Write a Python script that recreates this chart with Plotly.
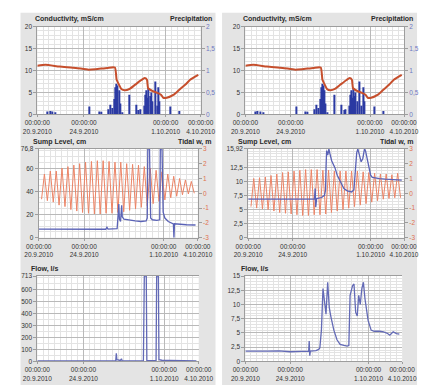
import pandas as pd
import plotly.graph_objects as go

START = pd.Timestamp("2010-09-20 00:00")
END = pd.Timestamp("2010-10-04 00:00")

# ---- shared time axis ticks (days after 20.9.2010 00:00)
x_tick_day = [0, 4, 11, 14]
x_tick_text = ["00:00:00<br>20.9.2010", "00:00:00<br>24.9.2010",
               "00:00:00<br>1.10.2010", "00:00:00<br>4.10.2010"]

# ---- conductivity, mS/cm
cond_day = [0.0, 0.7, 1.9, 3.3, 4.4, 5.0, 6.0, 6.65, 6.8, 7.0, 7.2, 7.5, 7.9, 8.4,
            8.9, 9.2, 9.4, 9.5, 9.9, 10.3, 10.6, 10.8, 11.1, 11.7, 12.2, 12.7, 13.1, 13.8]
cond_val = [11.1, 11.3, 10.9, 10.6, 10.2, 10.3, 10.6, 10.7, 7.9, 6.8, 5.8, 5.5, 5.8, 6.8,
            7.8, 8.3, 7.9, 6.0, 5.3, 4.9, 4.5, 3.8, 3.8, 4.5, 5.7, 6.8, 7.9, 9.0]

# ---- precipitation
rain_day = [0.9, 1.1, 1.3, 1.55, 4.5, 5.3, 5.45, 6.1, 6.25, 6.4, 6.6, 6.7, 6.8, 6.9,
            7.0, 7.1, 7.25, 7.9, 8.45, 8.7, 8.85, 9.15, 9.25, 9.35, 9.45, 9.55, 9.65,
            9.75, 9.85, 10.1, 10.25, 10.4, 10.5, 11.4, 12.2]
rain_val = [0.07, 0.08, 0.07, 0.05, 0.18, 0.07, 0.06, 0.12, 0.22, 0.15, 0.35, 0.62, 0.70,
            0.66, 0.55, 0.25, 0.05, 0.45, 0.22, 0.10, 0.12, 0.20, 0.45, 0.55, 0.38, 0.60,
            0.42, 0.50, 0.30, 0.75, 0.20, 0.62, 0.30, 0.18, 0.08]

# ---- tidal water level, m (alternating low / high water)
tide_day = [0.25, 0.50, 0.76, 1.02, 1.28, 1.54, 1.79, 2.05, 2.31, 2.57, 2.83, 3.09, 3.35,
            3.60, 3.86, 4.12, 4.38, 4.64, 4.90, 5.16, 5.41, 5.67, 5.93, 6.19, 6.45, 6.71,
            6.97, 7.22, 7.48, 7.74, 8.00, 8.26, 8.52, 8.78, 9.03, 9.29, 9.55, 9.81, 10.07,
            10.33, 10.59, 10.84, 11.10, 11.36, 11.62, 11.88, 12.14, 12.40, 12.65, 12.91,
            13.17, 13.43, 13.69]
tide_a = [-0.4, 1.3, -0.5, 1.5, -0.6, 1.5, -0.8, 1.7, -0.9, 1.8, -1.1, 1.9, -1.2, 2.0,
          -1.3, 2.1, -1.35, 2.15, -1.4, 2.2, -1.4, 2.2, -1.35, 2.15, -1.35, 2.1, -1.3, 2.1,
          -1.25, 2.0, -1.15, 1.95, -1.05, 1.9, -0.95, 1.8, -0.85, 1.7, -0.7, 1.55, -0.55,
          1.45, -0.45, 1.3, -0.3, 1.15, -0.2, 1.0, -0.1, 0.9, -0.05, 0.8, 0.0]
tide_b = [-0.9, 1.0, -1.0, 1.05, -1.05, 1.1, -1.1, 1.2, -1.2, 1.3, -1.3, 1.4, -1.35, 1.45,
          -1.4, 1.5, -1.45, 1.55, -1.5, 1.6, -1.5, 1.6, -1.45, 1.6, -1.45, 1.55, -1.4, 1.55,
          -1.3, 1.5, -1.2, 1.5, -1.1, 1.5, -1.0, 1.5, -0.9, 1.5, -0.8, 1.45, -0.7, 1.4,
          -0.6, 1.35, -0.5, 1.3, -0.4, 1.3, -0.35, 1.25, -0.3, 1.35, -0.3]

# ---- sump level, cm
sump_a_day = [0.0, 2.0, 4.0, 5.9, 6.0, 6.1, 6.9, 7.05, 7.1, 7.2, 7.3, 7.35, 7.5, 8.0, 8.5,
              9.0, 9.45, 9.55, 9.6, 9.75, 9.85, 10.0, 10.4, 10.65, 10.7, 10.85, 10.95,
              11.1, 11.4, 11.85, 11.9, 11.95, 12.5, 13.0, 13.8]
sump_a_val = [7.5, 7.4, 7.3, 7.3, 9.0, 7.4, 7.8, 29.0, 16.0, 14.0, 28.0, 18.0, 16.0, 15.0,
              14.5, 14.0, 14.5, 17.0, 76.8, 76.8, 17.0, 15.5, 15.0, 15.5, 76.8, 76.8, 22.0,
              17.0, 14.0, 12.0, 0.0, 12.0, 11.5, 11.2, 11.0]
sump_b_day = [0.0, 2.0, 4.0, 5.95, 6.02, 6.07, 6.15, 6.6, 6.85, 6.95, 7.0, 7.05, 7.15, 7.25,
              7.35, 7.5, 7.8, 8.0, 8.35, 8.6, 8.9, 9.3, 9.5, 9.65, 9.75, 9.85, 10.0, 10.15,
              10.3, 10.45, 10.55, 10.7, 10.85, 11.0, 11.15, 11.4, 11.8, 12.3, 12.8, 13.3, 13.8]
sump_b_val = [6.9, 6.9, 6.9, 6.9, 8.8, 5.5, 7.0, 7.2, 7.6, 8.5, 13.0, 15.6, 14.8, 15.92,
              15.0, 13.8, 12.5, 11.2, 9.8, 8.8, 8.4, 8.2, 8.6, 12.5, 15.2, 15.92, 14.8, 13.6,
              14.2, 15.92, 15.5, 14.2, 12.5, 11.2, 10.8, 10.7, 10.6, 10.5, 10.4, 10.4, 10.3]

# ---- flow, l/s
flow_a_day = [0.0, 3.0, 6.8, 6.85, 6.9, 7.2, 7.3, 7.35, 9.2, 9.28, 9.45, 9.5, 10.3, 10.35,
              10.5, 10.55, 10.8, 11.5, 12.5, 13.8]
flow_a_val = [4, 5, 4, 68, 15, 8, 22, 6, 5, 713, 713, 8, 6, 713, 713, 15, 10, 8, 6, 5]
flow_b_day = [0.0, 1.0, 2.0, 3.0, 4.0, 5.0, 5.65, 5.7, 5.75, 5.8, 6.3, 6.55, 6.65, 6.79,
              6.93, 7.07, 7.2, 7.35, 7.49, 7.62, 7.9, 8.18, 8.46, 8.8, 9.1, 9.24, 9.35,
              9.57, 9.7, 9.85, 9.99, 10.12, 10.26, 10.4, 10.54, 10.68, 10.96, 11.23, 11.5,
              12.0, 12.34, 12.7, 12.9, 13.2, 13.5, 13.75]
flow_b_val = [1.8, 1.75, 1.8, 1.85, 1.7, 1.75, 1.8, 3.6, 1.0, 1.8, 1.9, 2.1, 2.4, 5.5,
              12.8, 10.0, 8.3, 13.9, 9.5, 8.0, 5.5, 3.8, 3.0, 2.8, 2.7, 2.8, 11.6, 13.3,
              13.6, 8.6, 8.0, 11.6, 10.0, 12.8, 13.9, 11.0, 7.2, 5.5, 5.3, 5.3, 5.2, 4.9,
              4.6, 5.2, 4.9, 4.8]


def at(days):
    return [START + pd.Timedelta(days=d) for d in days]


W, H = 433, 388


def xd(a, b):
    return [a / W, b / W]


def yd(top, bottom):
    return [1 - bottom / H, 1 - top / H]


FONT = "Liberation Sans"
TICK_FONT = dict(family=FONT, size=6.5, color="#333333")
MAJOR_GRID = "#b9b9b9"
MINOR_GRID = "#e3e3e3"
FRAME = "#9d9d9d"

COND_C = "#c64f2d"
RAIN_C = "#2b3aa3"
TIDE_C = "#ec8466"
SUMP_C = "#5a62b6"
FLOW_C = "#636ab6"


def x_axis(domain, anchor):
    return dict(
        domain=domain, anchor=anchor, type="date",
        range=[START, END], tickmode="array",
        tickvals=at(x_tick_day), ticktext=x_tick_text,
        ticks="outside", ticklen=2, tickcolor=FRAME, tickfont=TICK_FONT,
        showgrid=True, gridcolor=MAJOR_GRID, gridwidth=1,
        minor=dict(tickmode="linear", tick0="2010-09-20", dtick=12 * 3600 * 1000,
                   showgrid=True, gridcolor=MINOR_GRID, ticks=""),
        showline=True, linecolor=FRAME, linewidth=1, mirror=True,
        zeroline=False, fixedrange=True,
    )


def y_axis(domain, anchor, rng, vals, text, minor_step, side="left",
           grid=True, color="#333333", overlaying=None):
    ax = dict(
        domain=domain, anchor=anchor, range=rng, side=side,
        tickmode="array", tickvals=vals, ticktext=text,
        ticks="outside", ticklen=3, tickcolor=FRAME,
        tickfont=dict(family=FONT, size=6.5, color=color),
        showgrid=grid, gridcolor=MAJOR_GRID, gridwidth=1,
        showline=True, linecolor=FRAME, linewidth=1,
        zeroline=False, fixedrange=True,
    )
    if grid:
        ax["minor"] = dict(tickmode="linear", tick0=0, dtick=minor_step,
                           showgrid=True, gridcolor=MINOR_GRID, ticks="")
    if overlaying:
        ax["overlaying"] = overlaying
    return ax


fig = go.Figure()

# panel domains
L1 = (xd(25, 200), yd(23, 112.5))
R1 = (xd(248, 418), yd(23, 112.5))
L2 = (xd(26.5, 197), yd(147.5, 238))
R2 = (xd(251, 418), yd(147.5, 238))
L3 = (xd(25, 198), yd(277, 364))
R3 = (xd(248, 416), yd(277, 364))

rain_width = 0.09 * 86400000

# top row: precipitation on the base axis, conductivity overlaid on top
for xa, ya_base, ya_over in (("x", "y", "y7"), ("x2", "y2", "y8")):
    fig.add_trace(go.Bar(x=at(rain_day), y=rain_val, width=rain_width,
                         marker=dict(color=RAIN_C, line=dict(width=0)),
                         xaxis=xa, yaxis=ya_base, showlegend=False))
    fig.add_trace(go.Scatter(x=at(cond_day), y=cond_val, mode="lines",
                             line=dict(color=COND_C, width=2, shape="spline", smoothing=0.5),
                             xaxis=xa, yaxis=ya_over, showlegend=False))

# middle row: tide on the base axis, sump level overlaid
for xa, ya_base, ya_over, tide, sd, sv in (
        ("x3", "y3", "y9", tide_a, sump_a_day, sump_a_val),
        ("x4", "y4", "y10", tide_b, sump_b_day, sump_b_val)):
    fig.add_trace(go.Scatter(x=at(tide_day), y=tide, mode="lines",
                             line=dict(color=TIDE_C, width=1),
                             xaxis=xa, yaxis=ya_base, showlegend=False))
    fig.add_trace(go.Scatter(x=at(sd), y=sv, mode="lines",
                             line=dict(color=SUMP_C, width=1.3),
                             xaxis=xa, yaxis=ya_over, showlegend=False))

# bottom row: flow
fig.add_trace(go.Scatter(x=at(flow_a_day), y=flow_a_val, mode="lines",
                         line=dict(color=FLOW_C, width=1.3),
                         xaxis="x5", yaxis="y5", showlegend=False))
fig.add_trace(go.Scatter(x=at(flow_b_day), y=flow_b_val, mode="lines",
                         line=dict(color=FLOW_C, width=1.3),
                         xaxis="x6", yaxis="y6", showlegend=False))

cond_ticks = [0, 5, 10, 15, 20]
rain_ticks = [0, 0.5, 1, 1.5, 2]
rain_text = ["0", "0,5", "1", "1,5", "2"]
tide_ticks = [-3, -2, -1, 0, 1, 2, 3]
tide_text = ["-3", "-2", "-1", "0", "1", "2", "3"]
sump_a_ticks = [0, 20, 40, 60, 76.8]
sump_a_text = ["0", "20", "40", "60", "76,8"]
sump_b_ticks = [0, 2.5, 5, 7.5, 10, 12.5, 15.92]
sump_b_text = ["0", "2,5", "5", "7,5", "10", "12,5", "15,92"]
flow_a_ticks = [0, 100, 200, 300, 400, 500, 600, 713]
flow_b_ticks = [0, 2.5, 5, 7.5, 10, 12.5, 15]
flow_b_text = ["0", "2,5", "5", "7,5", "10", "12,5", "15"]

RAIN_TICK_C = "#6f78c2"
TIDE_TICK_C = "#e0714f"

fig.update_layout(
    width=W, height=H, autosize=False,
    margin=dict(l=0, r=0, t=0, b=0),
    paper_bgcolor="white", plot_bgcolor="rgba(0,0,0,0)",
    showlegend=False,
    xaxis=x_axis(L1[0], "y"),
    xaxis2=x_axis(R1[0], "y2"),
    xaxis3=x_axis(L2[0], "y3"),
    xaxis4=x_axis(R2[0], "y4"),
    xaxis5=x_axis(L3[0], "y5"),
    xaxis6=x_axis(R3[0], "y6"),
    yaxis=y_axis(L1[1], "x", [0, 2], rain_ticks, rain_text, 0.1, side="right", color=RAIN_TICK_C),
    yaxis2=y_axis(R1[1], "x2", [0, 2], rain_ticks, rain_text, 0.1, side="right", color=RAIN_TICK_C),
    yaxis3=y_axis(L2[1], "x3", [-3, 3], tide_ticks, tide_text, 1, side="right", grid=False, color=TIDE_TICK_C),
    yaxis4=y_axis(R2[1], "x4", [-3, 3], tide_ticks, tide_text, 1, side="right", grid=False, color=TIDE_TICK_C),
    yaxis5=y_axis(L3[1], "x5", [0, 713], flow_a_ticks, [str(v) for v in flow_a_ticks], 50),
    yaxis6=y_axis(R3[1], "x6", [0, 15], flow_b_ticks, flow_b_text, 0.5),
    yaxis7=y_axis(L1[1], "x", [0, 20], cond_ticks, [str(v) for v in cond_ticks], 1, grid=False, overlaying="y"),
    yaxis8=y_axis(R1[1], "x2", [0, 20], cond_ticks, [str(v) for v in cond_ticks], 1, grid=False, overlaying="y2"),
    yaxis9=y_axis(L2[1], "x3", [0, 76.8], sump_a_ticks, sump_a_text, 5, overlaying="y3"),
    yaxis10=y_axis(R2[1], "x4", [0, 15.92], sump_b_ticks, sump_b_text, 0.5, overlaying="y4"),
)

# grey panels with white plotting areas
shapes = []
for x0, x1 in ((7, 216), (223, 432)):
    shapes.append(dict(type="rect", xref="paper", yref="paper", layer="below",
                       x0=x0 / W, x1=x1 / W, y0=0, y1=1 - 9 / H,
                       fillcolor="#e4e4e4", line=dict(width=0)))
for dx, dy in (L1, R1, L2, R2, L3, R3):
    shapes.append(dict(type="rect", xref="paper", yref="paper", layer="below",
                       x0=dx[0], x1=dx[1], y0=dy[0], y1=dy[1],
                       fillcolor="white", line=dict(width=0)))
fig.update_layout(shapes=shapes)

TITLE_FONT = dict(family=FONT, size=7, color="#2a2a2a")


def title(text, x, y, anchor):
    fig.add_annotation(text="<b>%s</b>" % text, xref="paper", yref="paper",
                       x=x / W, y=1 - y / H, xanchor=anchor, yanchor="middle",
                       showarrow=False, font=TITLE_FONT)


title("Conductivity, mS/cm", 20, 15, "left")
title("Precipitation", 214, 15, "right")
title("Conductivity, mS/cm", 243, 15, "left")
title("Precipitation", 430, 15, "right")
title("Sump Level, cm", 18, 141, "left")
title("Tidal w, m", 213, 141, "right")
title("Sump Level, cm", 238, 141, "left")
title("Tidal w, m", 430, 141, "right")
title("Flow, l/s", 16, 270, "left")
title("Flow, l/s", 241, 270, "left")

fig.write_html("out.html")
